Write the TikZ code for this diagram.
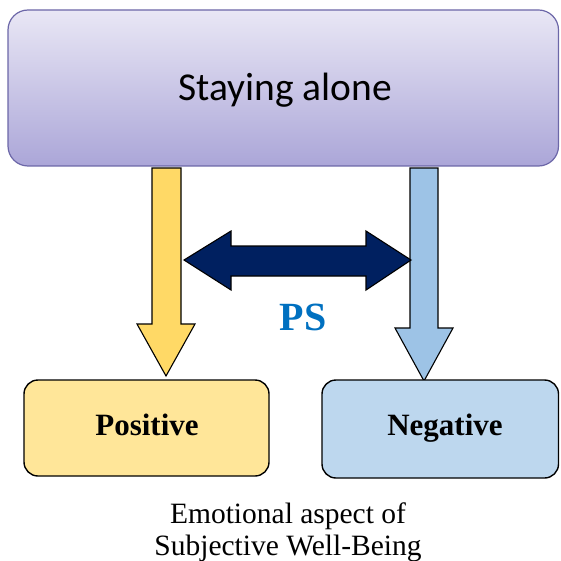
\documentclass[tikz,border=0pt]{standalone}
\usepackage{fontspec}
\setmainfont{Liberation Serif}
\newfontfamily\calib{Carlito}
\begin{document}
\begin{tikzpicture}[x=1pt,y=-1pt,
  topbox/.style={draw=topedge,line width=1.2pt,rounded corners=20pt,top color=toptop,bottom color=topbot},
  catbox/.style={draw=black,line width=1.4pt,rounded corners=14pt},
  arrowshape/.style={draw=black,line width=1.1pt,line join=miter},
  lbl/.style={font=\bfseries\fontsize{31}{34}\selectfont,text=black,anchor=base}]
\definecolor{topedge}{HTML}{6C67A8}
\definecolor{toptop}{HTML}{E9E7F5}
\definecolor{topbot}{HTML}{ABA6D8}
\definecolor{yel}{HTML}{FFD966}
\definecolor{yelbox}{HTML}{FFE699}
\definecolor{blu}{HTML}{9DC3E6}
\definecolor{blubox}{HTML}{BDD7EE}
\definecolor{navy}{HTML}{002060}
\definecolor{psblue}{HTML}{0070C0}
\useasboundingbox (0,0) rectangle (560,561);
% top box
\path[topbox] (8,10) rectangle (558.5,166);
\node (top) at (285,90) {\calib\fontsize{39.5}{42}\selectfont Staying alone};
% down arrows
\path[arrowshape,fill=yel] (152,168) -- (181,168) -- (181,324) -- (195,324) -- (166,376) -- (137,324) -- (152,324) -- cycle;
\path[arrowshape,fill=blu] (410,168) -- (438,168) -- (438,328) -- (453,328) -- (424,381) -- (395,328) -- (410,328) -- cycle;
% double arrow
\path[arrowshape,fill=navy] (184,260) -- (231,231) -- (231,246) -- (366,246) -- (366,231) -- (411,260) -- (366,290) -- (366,276) -- (231,276) -- (231,290) -- cycle;
\node (ps) at (303,317) {\bfseries\fontsize{40}{42}\selectfont\color{psblue}PS};
% bottom boxes
\path[catbox,fill=yelbox] (24,380) rectangle (269,476);
\path[catbox,fill=blubox] (322,380) rectangle (558.5,478);
\node[lbl] (pos) at (147,435) {Positive};
\node[lbl] (neg) at (445,435) {Negative};
% caption
\node[align=center,font=\fontsize{29.5}{32}\selectfont] (cap) at (288,532) {Emotional aspect of\\Subjective Well-Being};
\end{tikzpicture}
\end{document}
